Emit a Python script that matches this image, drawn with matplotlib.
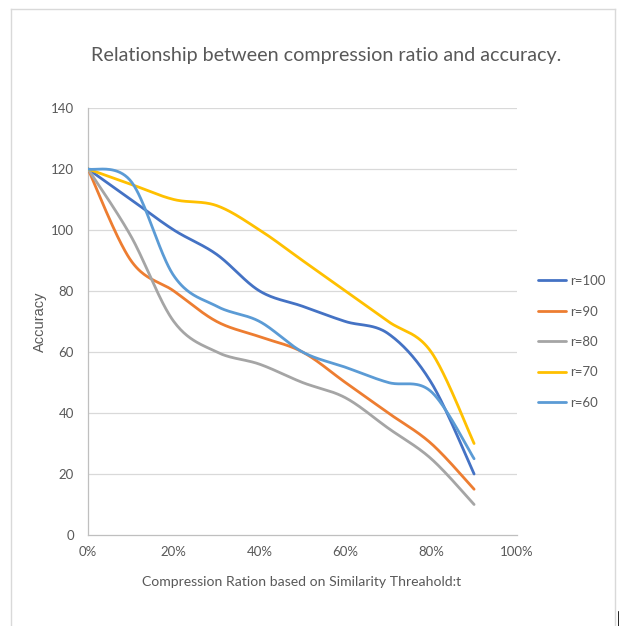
import numpy as np
import matplotlib
matplotlib.use("Agg")
import matplotlib.pyplot as plt
from matplotlib.lines import Line2D

# Compression ratio (fraction) and accuracy for each r value
ratios = [0.0, 0.1, 0.2, 0.3, 0.4, 0.5, 0.6, 0.7, 0.8, 0.9]
acc_r100 = [120, 110, 100, 92, 80, 75, 70, 66, 50, 20]
acc_r90 = [120, 90, 80, 70, 65, 60, 50, 40, 30, 15]
acc_r80 = [120, 98, 70, 60, 56, 50, 45, 35, 25, 10]
acc_r70 = [120, 115, 110, 108, 100, 90, 80, 70, 60, 30]
acc_r60 = [120, 116, 85, 75, 70, 60, 55, 50, 47, 25]

series_names = ["r=100", "r=90", "r=80", "r=70", "r=60"]
series_values = [acc_r100, acc_r90, acc_r80, acc_r70, acc_r60]
series_colors = ["#4472C4", "#ED7D31", "#A5A5A5", "#FFC000", "#5B9BD5"]

x_ticks = [0.0, 0.2, 0.4, 0.6, 0.8, 1.0]
x_tick_labels = ["0%", "20%", "40%", "60%", "80%", "100%"]
y_ticks = [0, 20, 40, 60, 80, 100, 120, 140]


def smooth(xs, ys, n=40):
    """Spreadsheet-style smoothed line: cubic Bezier segments with
    Catmull-Rom control points."""
    xs = np.asarray(xs, float)
    ys = np.asarray(ys, float)
    pts = np.column_stack([xs, ys])
    out = []
    for i in range(len(pts) - 1):
        p0 = pts[i - 1] if i > 0 else pts[i]
        p1 = pts[i]
        p2 = pts[i + 1]
        p3 = pts[i + 2] if i + 2 < len(pts) else pts[i + 1]
        c1 = p1 + (p2 - p0) / 6.0
        c2 = p2 - (p3 - p1) / 6.0
        t = np.linspace(0, 1, n)[:, None]
        seg = ((1 - t) ** 3) * p1 + 3 * ((1 - t) ** 2) * t * c1 \
            + 3 * (1 - t) * t ** 2 * c2 + t ** 3 * p2
        out.append(seg if i == 0 else seg[1:])
    seg = np.vstack(out)
    return seg[:, 0], seg[:, 1]


W, H = 619, 626
fig = plt.figure(figsize=(W / 100, H / 100), dpi=100)
fig.patch.set_facecolor("white")

text_color = "#595959"
font_main = ["Lato", "DejaVu Sans"]

ax = fig.add_axes([88 / W, 1 - 535 / H, (517 - 88) / W, (535 - 108) / H])
ax.set_xlim(0, 1)
ax.set_ylim(0, 140)

for yv in y_ticks[1:]:
    ax.axhline(yv, color="#D9D9D9", lw=0.9, zorder=0)

for name, vals, col in zip(series_names, series_values, series_colors):
    sx, sy = smooth(ratios, vals)
    ax.plot(sx, sy, color=col, lw=2.0, solid_capstyle="round", label=name, zorder=3)

for side in ["top", "right"]:
    ax.spines[side].set_visible(False)
for side in ["left", "bottom"]:
    ax.spines[side].set_color("#BFBFBF")
    ax.spines[side].set_linewidth(0.9)

ax.set_xticks(x_ticks)
ax.set_xticklabels(x_tick_labels)
ax.set_yticks(y_ticks)
ax.tick_params(axis="both", length=0, colors=text_color, labelsize=9.5)
ax.tick_params(axis="y", pad=10)
ax.tick_params(axis="x", pad=8)
for lbl in ax.get_xticklabels() + ax.get_yticklabels():
    lbl.set_family(font_main)

fig.text(326 / W, 1 - 56 / H, "Relationship between compression ratio and accuracy.",
         ha="center", va="center", fontsize=14.25, color=text_color, family=font_main)
fig.text(302 / W, 1 - 582 / H, "Compression Ration based on Similarity Threahold:t",
         ha="center", va="center", fontsize=10.1, color=text_color, family=font_main)
fig.text(40 / W, 1 - 322 / H, "Accuracy", rotation=90, ha="center", va="center",
         fontsize=10.5, color=text_color, family=["Liberation Sans", "DejaVu Sans"])

handles, labels = ax.get_legend_handles_labels()
leg = fig.legend(handles, labels, loc="center left",
                 bbox_to_anchor=(538 / W, 1 - 342 / H), frameon=False,
                 fontsize=9.5, labelspacing=1.4, handlelength=2.1,
                 handletextpad=0.35, borderaxespad=0, borderpad=0)
for t in leg.get_texts():
    t.set_color(text_color)
    t.set_family(font_main)

# Chart frame
frame_kw = dict(color="#D9D9D9", lw=1.0, transform=fig.transFigure)
fig.add_artist(Line2D([10.5 / W, 10.5 / W], [0, 1 - 9 / H], **frame_kw))
fig.add_artist(Line2D([10.5 / W, 615 / W], [1 - 9 / H, 1 - 9 / H], **frame_kw))
fig.add_artist(Line2D([615 / W, 615 / W], [0, 1 - 9 / H], **frame_kw))
fig.add_artist(Line2D([618.5 / W, 618.5 / W], [0, 14 / H], color="#000000", lw=1.2,
                      transform=fig.transFigure))

fig.savefig("out.png", dpi=100, facecolor="white")
